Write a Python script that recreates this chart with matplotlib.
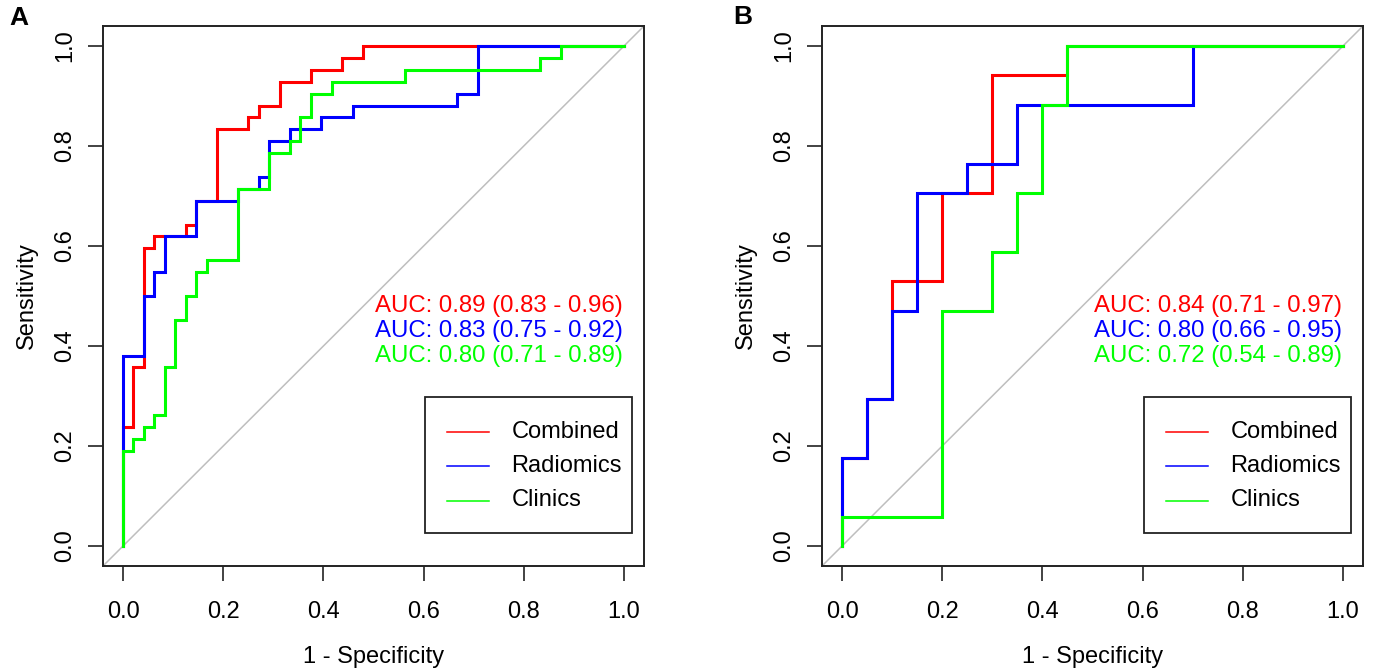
import matplotlib
matplotlib.use("Agg")
import matplotlib.pyplot as plt
from matplotlib.patches import Rectangle

plt.rcParams['font.family'] = ['Liberation Sans', 'DejaVu Sans']

# ROC corner points as counts: x = false positives, y = true positives
# panel A (training): 48 negatives, 42 positives
A_NEG, A_POS = 48, 42
a_comb_fp = [0, 0, 1, 2, 3, 6, 7, 9, 12, 13, 15, 18, 21, 23, 48]
a_comb_tp = [0, 10, 15, 25, 26, 27, 29, 35, 36, 37, 39, 40, 41, 42, 42]
a_rad_fp = [0, 0, 2, 3, 4, 7, 11, 13, 14, 16, 19, 22, 32, 34, 48]
a_rad_tp = [0, 16, 21, 23, 26, 29, 30, 31, 34, 35, 36, 37, 38, 42, 42]
a_cli_fp = [0, 0, 1, 2, 3, 4, 5, 6, 7, 8, 11, 14, 16, 17, 18, 20, 27, 40, 42, 48]
a_cli_tp = [0, 8, 9, 10, 11, 15, 19, 21, 23, 24, 30, 33, 34, 36, 38, 39, 40, 41, 42, 42]

# panel B (validation): 20 negatives, 17 positives
B_NEG, B_POS = 20, 17
b_comb_fp = [0, 0, 1, 2, 4, 6, 9, 20]
b_comb_tp = [0, 3, 5, 9, 12, 16, 17, 17]
b_rad_fp = [0, 0, 1, 2, 3, 5, 7, 14, 20]
b_rad_tp = [0, 3, 5, 8, 12, 13, 15, 17, 17]
b_cli_fp = [0, 0, 4, 6, 7, 8, 9, 20]
b_cli_tp = [0, 1, 8, 10, 12, 15, 17, 17]

model_names = ['Combined', 'Radiomics', 'Clinics']
model_colors = ['#FF0000', '#0000FF', '#00FF00']
a_auc_labels = ['AUC: 0.89 (0.83 - 0.96)', 'AUC: 0.83 (0.75 - 0.92)', 'AUC: 0.80 (0.71 - 0.89)']
b_auc_labels = ['AUC: 0.84 (0.71 - 0.97)', 'AUC: 0.80 (0.66 - 0.95)', 'AUC: 0.72 (0.54 - 0.89)']
ticks = [0.0, 0.2, 0.4, 0.6, 0.8, 1.0]
tick_labels = ['0.0', '0.2', '0.4', '0.6', '0.8', '1.0']

FS = 17
DARK = '#222222'


def draw_panel(ax, curves, n_neg, n_pos, auc_labels):
    ax.set_xlim(-0.04, 1.04)
    ax.set_ylim(-0.04, 1.04)
    ax.axline((0, 0), (1, 1), color='#BEBEBE', lw=1.1, zorder=1)

    for (fp, tp), col in zip(curves, model_colors):
        x = [v / n_neg for v in fp]
        y = [v / n_pos for v in tp]
        ax.plot(x, y, color=col, lw=2.2, drawstyle='steps-post', zorder=2,
                solid_joinstyle='miter')

    # AUC text
    for i, (txt, col) in enumerate(zip(auc_labels, model_colors)):
        ax.text(0.503, 0.48 - 0.05 * i, txt, color=col, fontsize=17.3,
                ha='left', va='center')

    # legend box (R style)
    ax.add_patch(Rectangle((0.602, 0.026), 0.414, 0.272, fill=False,
                           edgecolor=DARK, lw=1.3, zorder=3))
    for i, (name, col) in enumerate(zip(model_names, model_colors)):
        yy = 0.229 - 0.069 * i
        ax.plot([0.646, 0.730], [yy, yy], color=col, lw=1.1, zorder=3)
        ax.text(0.775, yy, name, fontsize=FS, color='black',
                ha='left', va='center', zorder=3)

    for s in ax.spines.values():
        s.set_color(DARK)
        s.set_linewidth(1.4)
    ax.tick_params(axis='both', direction='out', length=11, width=1.2,
                   color=DARK, labelsize=FS, labelcolor='black')
    ax.tick_params(axis='x', pad=14)
    ax.tick_params(axis='y', pad=12)
    ax.set_xticks(ticks, tick_labels)
    ax.set_yticks(ticks, tick_labels, rotation=90, rotation_mode='anchor',
                  ha='center', va='baseline')

    ax.set_xlabel('1 - Specificity', fontsize=FS, va='baseline')
    ax.xaxis.set_label_coords(0.5, -0.18)
    ax.set_ylabel('Sensitivity', fontsize=FS, rotation=90,
                  rotation_mode='anchor', va='baseline', ha='center')
    ax.yaxis.set_label_coords(-0.129, 0.5)


fig = plt.figure(figsize=(13.77, 6.72), dpi=100)
W, H = 1377, 672
axA = fig.add_axes([103 / W, (H - 566) / H, 541 / W, 540 / H])
axB = fig.add_axes([822 / W, (H - 566) / H, 541 / W, 540 / H])

draw_panel(axA, [(a_comb_fp, a_comb_tp), (a_rad_fp, a_rad_tp), (a_cli_fp, a_cli_tp)],
           A_NEG, A_POS, a_auc_labels)
draw_panel(axB, [(b_comb_fp, b_comb_tp), (b_rad_fp, b_rad_tp), (b_cli_fp, b_cli_tp)],
           B_NEG, B_POS, b_auc_labels)

fig.text(19 / W, 1 - 18 / H, 'A', fontsize=19, fontweight='bold', ha='center', va='center')
fig.text(743 / W, 1 - 17 / H, 'B', fontsize=19, fontweight='bold', ha='center', va='center')

fig.savefig('out.png', dpi=100, facecolor='white')
